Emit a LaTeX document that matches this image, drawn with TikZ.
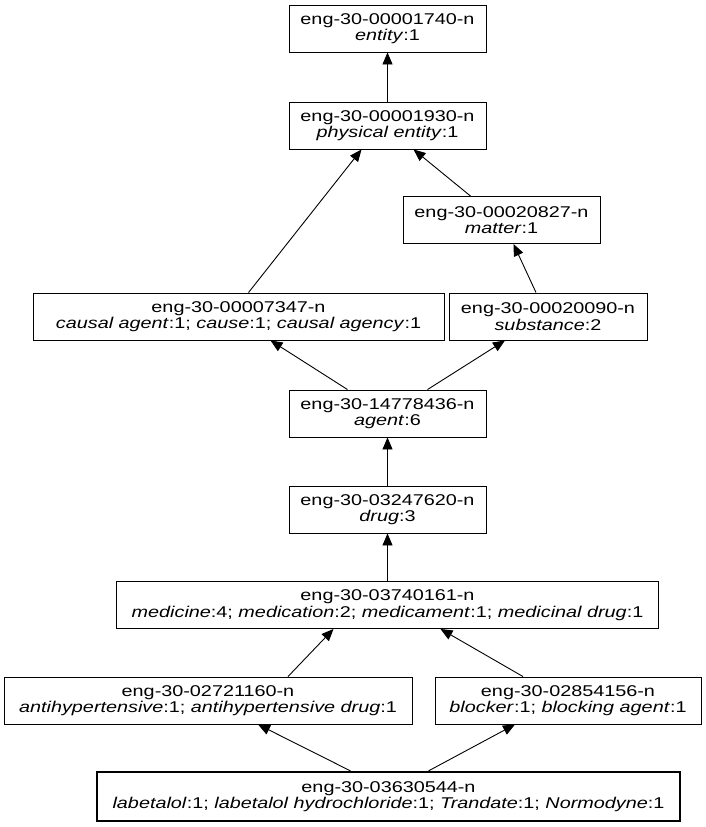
\documentclass[tikz,border=0pt]{standalone}
\usepackage{fontspec}
\setmainfont[FakeStretch=1.27]{Liberation Sans}
\usetikzlibrary{arrows.meta}

\tikzset{
  synset/.style={draw, line width=0.9pt, minimum height=47pt, inner sep=0pt,
    align=center, font=\fontsize{15.6}{16.5}\selectfont},
  hyper/.style={line width=0.9pt, -{Triangle[length=12pt,width=10pt]}}
}

\begin{document}
\begin{tikzpicture}[x=1pt, y=-1pt]
	\useasboundingbox (0,0) rectangle (706,827);
	
	% Synsets, from the root down
	\node[synset, minimum width=197pt] (entity) at (387.5,28.5) {eng-30-00001740-n\\\textit{entity}:1};
	\node[synset, minimum width=197pt] (physical) at (387.5,125.5) {eng-30-00001930-n\\\textit{physical entity}:1};
	\node[synset, minimum width=197pt] (matter) at (501.5,220) {eng-30-00020827-n\\\textit{matter}:1};
	\node[synset, minimum width=411pt] (causal) at (238.5,316.5) {eng-30-00007347-n\\\textit{causal agent}:1; \textit{cause}:1; \textit{causal agency}:1};
	\node[synset, minimum width=198pt] (substance) at (548,316.5) {eng-30-00020090-n\\\textit{substance}:2};
	\node[synset, minimum width=197pt] (agent) at (387.5,413.5) {eng-30-14778436-n\\\textit{agent}:6};
	\node[synset, minimum width=197pt] (drug) at (387.5,509.5) {eng-30-03247620-n\\\textit{drug}:3};
	\node[synset, minimum width=542pt] (medicine) at (387.5,605) {eng-30-03740161-n\\\textit{medicine}:4; \textit{medication}:2; \textit{medicament}:1; \textit{medicinal drug}:1};
	\node[synset, minimum width=408pt] (antihyp) at (208,700.5) {eng-30-02721160-n\\\textit{antihypertensive}:1; \textit{antihypertensive drug}:1};
	\node[synset, minimum width=266pt] (blocker) at (568,700.5) {eng-30-02854156-n\\\textit{blocker}:1; \textit{blocking agent}:1};
	
	% The synset itself, with a heavier frame
	\node[synset, line width=2.2pt, minimum width=583pt, minimum height=49pt] (labetalol) at (388.5,796.5) {eng-30-03630544-n\\\textit{labetalol}:1; \textit{labetalol hydrochloride}:1; \textit{Trandate}:1; \textit{Normodyne}:1};
	
	% Hypernym links, child to parent
	\draw[hyper] (physical.north) -- (entity.south);
	\draw[hyper] ([xshift=10pt]causal.north) -- ([xshift=-26pt]physical.south);
	\draw[hyper] ([xshift=-31pt]matter.north) -- ([xshift=26pt]physical.south);
	\draw[hyper] ([xshift=-12pt]substance.north) -- ([xshift=12pt]matter.south);
	\draw[hyper] ([xshift=-40pt]agent.north) -- ([xshift=32pt]causal.south);
	\draw[hyper] ([xshift=40pt]agent.north) -- ([xshift=-43pt]substance.south);
	\draw[hyper] (drug.north) -- (agent.south);
	\draw[hyper] (medicine.north) -- (drug.south);
	\draw[hyper] ([xshift=80pt]antihyp.north) -- ([xshift=-54pt]medicine.south);
	\draw[hyper] ([xshift=-45pt]blocker.north) -- ([xshift=53pt]medicine.south);
	\draw[hyper] ([xshift=-38pt]labetalol.north) -- ([xshift=50pt]antihyp.south);
	\draw[hyper] ([xshift=40pt]labetalol.north) -- ([xshift=-53pt]blocker.south);
\end{tikzpicture}
\end{document}
